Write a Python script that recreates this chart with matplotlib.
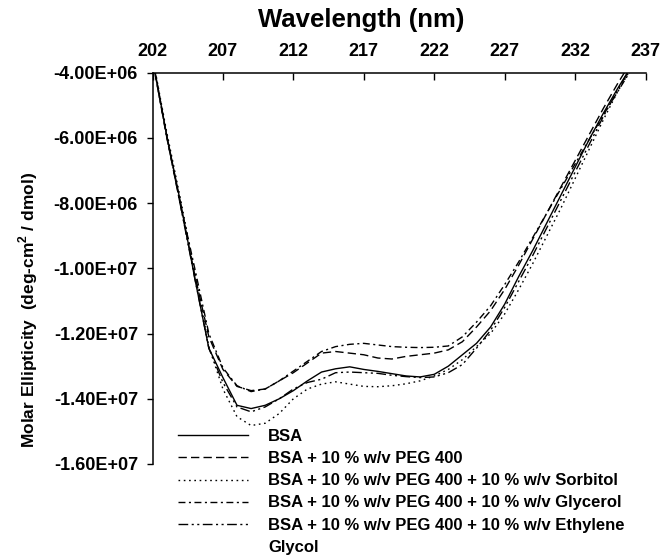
import matplotlib
matplotlib.use('Agg')
import matplotlib.pyplot as plt
from matplotlib.lines import Line2D
from matplotlib.ticker import FuncFormatter

plt.rcParams['font.family'] = ['Liberation Sans', 'DejaVu Sans']
plt.rcParams['font.weight'] = 'bold'
plt.rcParams['lines.scale_dashes'] = False
plt.rcParams['mathtext.fontset'] = 'custom'
plt.rcParams['mathtext.bf'] = 'Liberation Sans:bold'
plt.rcParams['mathtext.rm'] = 'Liberation Sans:bold'

wavelength = list(range(202, 237))

bsa = [-3.55e6, -5.9e6, -8.0e6, -1.03e7, -1.245e7, -1.335e7, -1.42e7, -1.43e7,
       -1.42e7, -1.40e7, -1.375e7, -1.345e7, -1.318e7, -1.308e7, -1.302e7, -1.31e7,
       -1.316e7, -1.323e7, -1.33e7, -1.333e7, -1.325e7, -1.30e7, -1.265e7, -1.23e7,
       -1.18e7, -1.11e7, -1.025e7, -9.45e6, -8.6e6, -7.75e6, -6.9e6, -6.05e6,
       -5.25e6, -4.5e6, -3.8e6]

peg = [-3.6e6, -5.95e6, -8.1e6, -1.02e7, -1.21e7, -1.31e7, -1.362e7, -1.375e7,
       -1.37e7, -1.345e7, -1.32e7, -1.29e7, -1.26e7, -1.255e7, -1.26e7, -1.265e7,
       -1.275e7, -1.278e7, -1.27e7, -1.265e7, -1.26e7, -1.25e7, -1.225e7, -1.18e7,
       -1.13e7, -1.065e7, -9.9e6, -9.1e6, -8.3e6, -7.5e6, -6.7e6, -5.9e6,
       -5.1e6, -4.35e6, -3.65e6]

sorbitol = [-3.5e6, -5.8e6, -7.9e6, -1.01e7, -1.24e7, -1.37e7, -1.455e7, -1.482e7,
            -1.475e7, -1.445e7, -1.40e7, -1.37e7, -1.355e7, -1.348e7, -1.355e7, -1.362e7,
            -1.363e7, -1.36e7, -1.354e7, -1.345e7, -1.33e7, -1.31e7, -1.28e7, -1.24e7,
            -1.20e7, -1.14e7, -1.065e7, -9.85e6, -9.0e6, -8.15e6, -7.25e6, -6.35e6,
            -5.45e6, -4.6e6, -3.85e6]

glycerol = [-3.6e6, -5.95e6, -8.05e6, -1.0e7, -1.2e7, -1.305e7, -1.36e7, -1.378e7,
            -1.37e7, -1.345e7, -1.315e7, -1.285e7, -1.255e7, -1.24e7, -1.233e7, -1.23e7,
            -1.235e7, -1.24e7, -1.242e7, -1.243e7, -1.242e7, -1.238e7, -1.21e7, -1.165e7,
            -1.115e7, -1.05e7, -9.8e6, -9.05e6, -8.3e6, -7.55e6, -6.8e6, -6.05e6,
            -5.3e6, -4.6e6, -3.9e6]

ethylene = [-3.55e6, -5.9e6, -8.1e6, -1.03e7, -1.245e7, -1.35e7, -1.425e7, -1.44e7,
            -1.425e7, -1.40e7, -1.37e7, -1.35e7, -1.34e7, -1.32e7, -1.318e7, -1.32e7,
            -1.322e7, -1.328e7, -1.332e7, -1.335e7, -1.333e7, -1.32e7, -1.295e7, -1.245e7,
            -1.19e7, -1.12e7, -1.04e7, -9.6e6, -8.75e6, -7.9e6, -7.05e6, -6.2e6,
            -5.35e6, -4.55e6, -3.8e6]

labels = ['BSA',
          'BSA + 10 % w/v PEG 400',
          'BSA + 10 % w/v PEG 400 + 10 % w/v Sorbitol',
          'BSA + 10 % w/v PEG 400 + 10 % w/v Glycerol',
          'BSA + 10 % w/v PEG 400 + 10 % w/v Ethylene']
extra_label = 'Glycol'

xticks = [202, 207, 212, 217, 222, 227, 232, 237]
yticks = [-4e6, -6e6, -8e6, -1e7, -1.2e7, -1.4e7, -1.6e7]

series = [bsa, peg, sorbitol, glycerol, ethylene]
styles = [
    '-',
    (0, (6.0, 3.0)),
    (0, (1.2, 2.6)),
    (0, (5.0, 2.5, 1.5, 2.5)),
    (0, (7.0, 2.5, 1.5, 2.5, 1.5, 2.5)),
]

fig = plt.figure(figsize=(6.62, 5.55), dpi=100)
ax = fig.add_axes([152.5 / 662, 1 - 464 / 555, 493 / 662, (464 - 72.7) / 555])

handles = []
for ys, ls, lab in zip(series, styles, labels):
    h, = ax.plot(wavelength, ys, color='black', lw=1.0, linestyle=ls, label=lab)
    handles.append(h)
handles.append(Line2D([], [], color='none'))
all_labels = labels + [extra_label]

ax.set_xlim(202, 237)
ax.set_ylim(-1.6e7, -4e6)
ax.set_xticks(xticks)
ax.set_yticks(yticks)
ax.yaxis.set_major_formatter(FuncFormatter(lambda v, p: f"{v:.2E}"))

ax.xaxis.tick_top()
ax.xaxis.set_label_position('top')
ax.spines['right'].set_visible(False)
ax.spines['bottom'].set_visible(False)
ax.spines['top'].set_linewidth(1.1)
ax.spines['left'].set_linewidth(1.1)
ax.tick_params(axis='x', direction='in', length=5, width=1.0, pad=9, labelsize=13)
ax.tick_params(axis='y', direction='out', length=4.5, width=1.0, pad=6, labelsize=13)

ax.set_xlabel('Wavelength (nm)', fontsize=18.5, fontweight='bold')
ax.xaxis.set_label_coords((361 - 152.5) / 493, (464 - 20) / 391.3)
ax.xaxis.label.set_va('center')
ax.set_ylabel(r'Molar Ellipticity  (deg-cm$^{\mathbf{2}}$ / dmol)', fontsize=12.5, fontweight='bold')
ax.yaxis.set_label_coords((28 - 152.5) / 493, (464 - 310) / 391.3)
ax.yaxis.label.set_va('center')

leg = fig.legend(handles, all_labels, loc='upper left',
                 bbox_to_anchor=(178 / 662, 1 - 429 / 555),
                 frameon=False, fontsize=12, handlelength=4.2, handletextpad=1.2,
                 labelspacing=0.43, borderpad=0, borderaxespad=0)

fig.savefig('out.png', dpi=100)
